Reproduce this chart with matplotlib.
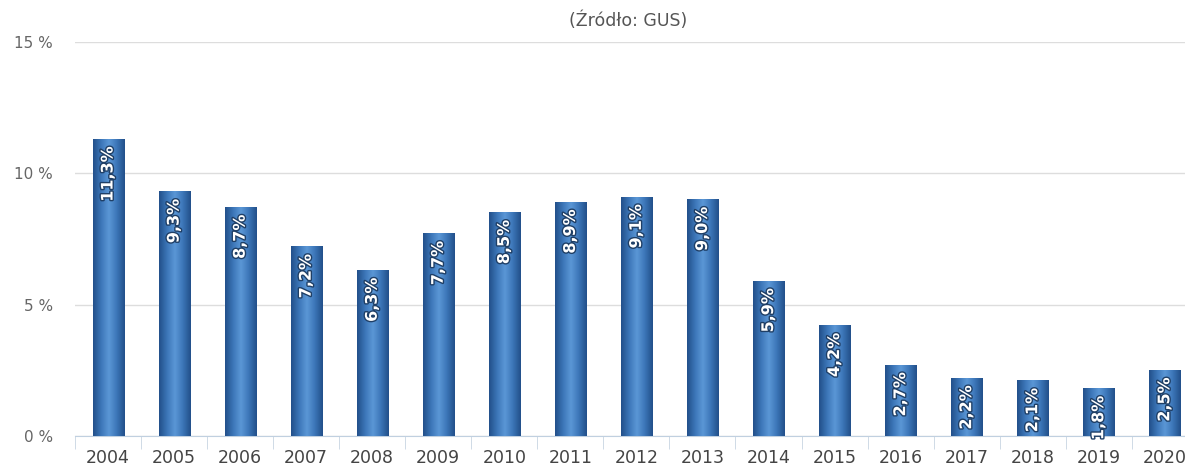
import matplotlib
matplotlib.use("Agg")
import matplotlib.pyplot as plt
import matplotlib.patheffects as pe
import numpy as np
from matplotlib.colors import LinearSegmentedColormap

years = ["2004", "2005", "2006", "2007", "2008", "2009", "2010", "2011", "2012",
         "2013", "2014", "2015", "2016", "2017", "2018", "2019", "2020"]
values = [11.3, 9.3, 8.7, 7.2, 6.3, 7.7, 8.5, 8.9, 9.1, 9.0, 5.9, 4.2, 2.7, 2.2, 2.1, 1.8, 2.5]
yticks = [0, 5, 10, 15]
ytick_labels = ["0 %", "5 %", "10 %", "15 %"]
title = "(Źródło: GUS)"

fig = plt.figure(figsize=(11.85, 4.7), dpi=100)
ax = fig.add_axes([0.0633, 0.0723, 0.9475, 0.838])

bar_w = 0.47
cmap = LinearSegmentedColormap.from_list(
    "bar", ["#22508a", "#3c76b8", "#5b97d6", "#3c76b8", "#22508a"])
grad = np.linspace(0, 1, 64).reshape(1, -1)

x = np.arange(len(years))
bars = ax.bar(x, values, width=bar_w, color="#3f7bbd", zorder=2)
for b in bars:
    x0, w, h = b.get_x(), b.get_width(), b.get_height()
    ax.imshow(grad, cmap=cmap, extent=[x0, x0 + w, 0, h], aspect="auto",
              zorder=3, interpolation="bicubic")

for xi, v in zip(x, values):
    ax.annotate(f"{v:.1f}%".replace(".", ","), xy=(xi, v), xytext=(0, -5),
                textcoords="offset points", rotation=90, ha="center", va="top",
                fontsize=11.5, fontweight="bold", color="white", zorder=5,
                path_effects=[pe.withStroke(linewidth=2, foreground="#1f3f66")])

ax.set_xlim(-0.5, len(years) - 0.5)
ax.set_ylim(0, 15)
ax.set_yticks(yticks)
ax.set_yticklabels(ytick_labels, fontsize=11, color="#666666")
ax.set_xticks(x)
ax.set_xticklabels(years, fontsize=12.5, color="#444444")
ax.set_xticks(np.arange(-0.5, len(years)), minor=True)
ax.tick_params(axis="x", which="major", length=0, pad=9)
ax.tick_params(axis="x", which="minor", length=9, color="#c8d4e2")
ax.tick_params(axis="y", length=0, pad=16)

ax.grid(axis="y", color="#dddddd", linewidth=1, zorder=0)
ax.set_axisbelow(True)
for s in ["top", "right", "left"]:
    ax.spines[s].set_visible(False)
ax.spines["bottom"].set_color("#c0d0e0")

fig.text(0.53, 0.955, title, ha="center", va="center", fontsize=12.5, color="#555555")

fig.savefig("out.png", dpi=100)
